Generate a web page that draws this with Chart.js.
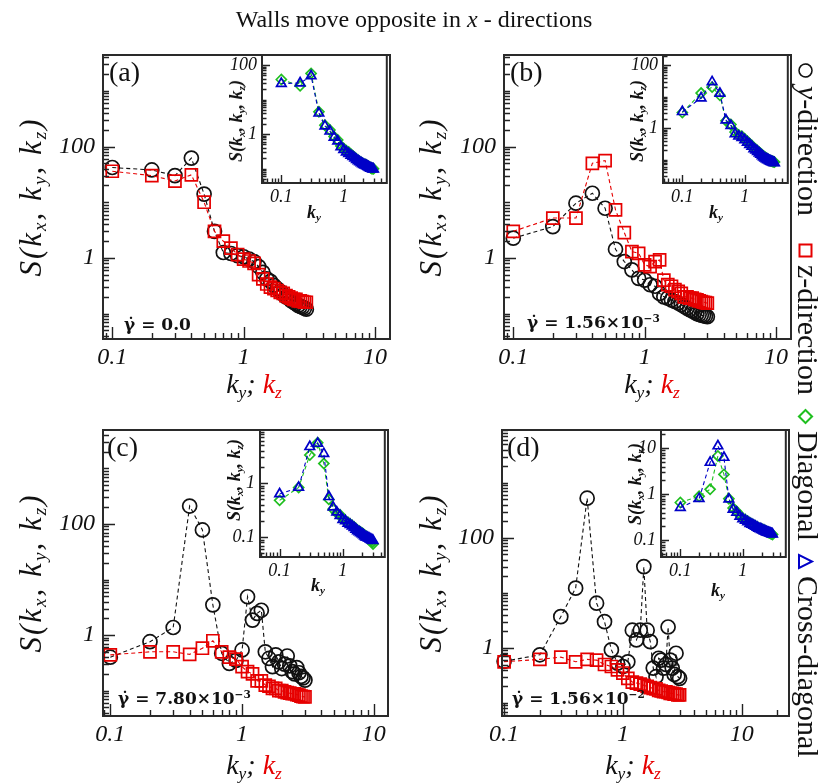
<!DOCTYPE html>
<html>
<head>
<meta charset="utf-8">
<script src="https://cdn.jsdelivr.net/npm/chart.js@4.4.1/dist/chart.umd.min.js"></script>
<style>
  body { margin: 0; background: #fff; }
  #fig { position: relative; width: 828px; height: 784px; overflow: hidden; font-family: "Liberation Serif", "Times New Roman", serif; color: #111; }
  #fig canvas { position: absolute; }
  .t { position: absolute; white-space: nowrap; line-height: 1; }
  .c { transform: translate(-50%, -50%); }
  .rot { transform: translate(-50%, -50%) rotate(-90deg); }
  .ytl { font-size: 31px; font-style: italic; letter-spacing: 2px; }
  .xtl { font-size: 28px; font-style: italic; }
  .iyt { font-size: 18px; font-style: italic; font-weight: bold; }
  .ixt { font-size: 18px; font-style: italic; font-weight: bold; }
  .pl { font-size: 28px; }
  .gd { font-family: "DejaVu Serif", serif; font-weight: bold; font-size: 17px; }
  sub { font-size: 0.62em; vertical-align: -0.3em; line-height: 0; }
  sup { font-size: 0.62em; vertical-align: 0.6em; line-height: 0; }
  .red { color: #e60000; }
  #leg { position: absolute; left: 824px; top: 60px; width: 720px; height: 32px; transform-origin: 0 0; transform: rotate(90deg); font-size: 30px; line-height: 32px; }
  #leg span { position: absolute; top: 0; white-space: nowrap; }
  #leg svg { vertical-align: -1px; }
</style>
</head>
<body>
<div id="fig">
  <canvas id="mainA"></canvas><canvas id="insetA"></canvas>
  <canvas id="mainB"></canvas><canvas id="insetB"></canvas>
  <canvas id="mainC"></canvas><canvas id="insetC"></canvas>
  <canvas id="mainD"></canvas><canvas id="insetD"></canvas>

  <div class="t c" style="left:414px;top:19px;font-size:24px">Walls move opposite in <i>x</i> - directions</div>

  <!-- panel a -->
  <div class="t pl" style="left:109px;top:58px">(a)</div>
  <div class="t gd" style="left:124px;top:316px">γ̇ = 0.0</div>
  <div class="t rot ytl" style="left:30px;top:197px">S(k<sub>x</sub>, k<sub>y</sub>, k<sub>z</sub>)</div>
  <div class="t c xtl" style="left:254px;top:384px">k<sub>y</sub>; <span class="red">k<sub>z</sub></span></div>
  <div class="t rot iyt" style="left:236px;top:121px">S(k<sub>x</sub>, k<sub>y</sub>, k<sub>z</sub>)</div>
  <div class="t c ixt" style="left:314px;top:212px">k<sub>y</sub></div>

  <!-- panel b -->
  <div class="t pl" style="left:510px;top:58px">(b)</div>
  <div class="t gd" style="left:527px;top:314px">γ̇ = 1.56×10<sup>−3</sup></div>
  <div class="t rot ytl" style="left:430px;top:197px">S(k<sub>x</sub>, k<sub>y</sub>, k<sub>z</sub>)</div>
  <div class="t c xtl" style="left:652px;top:384px">k<sub>y</sub>; <span class="red">k<sub>z</sub></span></div>
  <div class="t rot iyt" style="left:637px;top:121px">S(k<sub>x</sub>, k<sub>y</sub>, k<sub>z</sub>)</div>
  <div class="t c ixt" style="left:716px;top:212px">k<sub>y</sub></div>

  <!-- panel c -->
  <div class="t pl" style="left:107px;top:433px">(c)</div>
  <div class="t gd" style="left:118px;top:690px">γ̇ = 7.80×10<sup>−3</sup></div>
  <div class="t rot ytl" style="left:30px;top:573px">S(k<sub>x</sub>, k<sub>y</sub>, k<sub>z</sub>)</div>
  <div class="t c xtl" style="left:254px;top:765px">k<sub>y</sub>; <span class="red">k<sub>z</sub></span></div>
  <div class="t rot iyt" style="left:234px;top:480px">S(k<sub>x</sub>, k<sub>y</sub>, k<sub>z</sub>)</div>
  <div class="t c ixt" style="left:318px;top:585px">k<sub>y</sub></div>

  <!-- panel d -->
  <div class="t pl" style="left:507px;top:433px">(d)</div>
  <div class="t gd" style="left:512px;top:690px">γ̇ = 1.56×10<sup>−2</sup></div>
  <div class="t rot ytl" style="left:430px;top:573px">S(k<sub>x</sub>, k<sub>y</sub>, k<sub>z</sub>)</div>
  <div class="t c xtl" style="left:633px;top:765px">k<sub>y</sub>; <span class="red">k<sub>z</sub></span></div>
  <div class="t rot iyt" style="left:635px;top:484px">S(k<sub>x</sub>, k<sub>y</sub>, k<sub>z</sub>)</div>
  <div class="t c ixt" style="left:718px;top:590px">k<sub>y</sub></div>

  <!-- legend, rotated -->
  <div id="leg">
    <span style="left:2px"><svg width="17" height="17" viewBox="0 0 17 17"><circle cx="8.5" cy="8.5" r="6.5" fill="none" stroke="#111" stroke-width="1.6"/></svg></span>
    <span style="left:26px"><i>y</i>-direction</span>
    <span style="left:182px"><svg width="17" height="17" viewBox="0 0 17 17"><rect x="2.5" y="2.5" width="12" height="12" fill="none" stroke="#e60000" stroke-width="2"/></svg></span>
    <span style="left:205px">z-direction</span>
    <span style="left:348px"><svg width="17" height="17" viewBox="0 0 17 17"><polygon points="8.5,2 15,8.5 8.5,15 2,8.5" fill="none" stroke="#1fbf1f" stroke-width="2"/></svg></span>
    <span style="left:371px">Diagonal</span>
    <span style="left:493px"><svg width="17" height="17" viewBox="0 0 17 17"><polygon points="8.5,2 15,15 2,15" fill="none" stroke="#0000c8" stroke-width="2"/></svg></span>
    <span style="left:516px">Cross-diagonal</span>
  </div>
</div>

<script>
// wave numbers (same grid in every panel)
const kValues = [0.1, 0.2, 0.3, 0.4, 0.5, 0.6, 0.7, 0.8, 0.9, 1.0, 1.1, 1.2, 1.3, 1.4, 1.5,
                 1.6, 1.7, 1.8, 1.9, 2.0, 2.1, 2.2, 2.3, 2.4, 2.5, 2.6, 2.7, 2.8, 2.9, 3.0];

// (a) gamma = 0
const aYdir  = [42, 38, 30, 62, 14, 3.0, 1.25, 1.2, 1.1, 1.05, 0.95, 0.86, 0.7, 0.55, 0.42, 0.38, 0.32, 0.28, 0.25, 0.22, 0.2, 0.19, 0.17, 0.16, 0.15, 0.14, 0.135, 0.13, 0.125, 0.12];
const aZdir  = [36, 30, 24, 31, 10, 3.0, 2.0, 1.5, 1.15, 0.95, 0.88, 0.8, 0.5, 0.42, 0.34, 0.3, 0.28, 0.26, 0.24, 0.23, 0.21, 0.2, 0.19, 0.18, 0.18, 0.17, 0.17, 0.165, 0.16, 0.16];
const aDiag  = [38, 25, 57, 4.4, 1.8, 1.3, 0.84, 0.67, 0.45, 0.38, 0.33, 0.3, 0.26, 0.23, 0.21, 0.19, 0.17, 0.16, 0.15, 0.14, 0.135, 0.13, 0.125, 0.12, 0.115, 0.11, 0.105, 0.1, 0.1, 0.098];
const aCross = [29, 30, 48, 4.0, 1.7, 1.2, 0.8, 0.62, 0.42, 0.35, 0.3, 0.27, 0.24, 0.22, 0.2, 0.18, 0.165, 0.155, 0.145, 0.135, 0.13, 0.125, 0.12, 0.115, 0.11, 0.105, 0.1, 0.1, 0.095, 0.095];

// (b) gamma = 1.56e-3
const bYdir  = [2.26, 3.65, 9.6, 14.5, 7.8, 1.43, 0.86, 0.61, 0.43, 0.40, 0.33, 0.31, 0.23, 0.20, 0.19, 0.175, 0.165, 0.155, 0.145, 0.134, 0.125, 0.118, 0.112, 0.106, 0.10, 0.097, 0.094, 0.092, 0.09, 0.088];
const bZdir  = [3.0, 5.2, 5.2, 50, 56, 7.3, 2.85, 1.3, 1.21, 0.75, 0.70, 0.86, 0.92, 0.40, 0.33, 0.31, 0.27, 0.25, 0.23, 0.20, 0.2, 0.19, 0.19, 0.18, 0.177, 0.17, 0.165, 0.16, 0.158, 0.154];
const bDiag  = [3.1, 13, 20, 11, 1.7, 1.3, 0.75, 0.6, 0.55, 0.45, 0.38, 0.32, 0.28, 0.24, 0.21, 0.19, 0.17, 0.155, 0.14, 0.13, 0.12, 0.11, 0.105, 0.1, 0.095, 0.092, 0.09, 0.087, 0.085, 0.083];
const bCross = [3.3, 9, 29.5, 12.6, 1.8, 1.2, 0.65, 0.55, 0.5, 0.42, 0.35, 0.3, 0.26, 0.22, 0.2, 0.18, 0.16, 0.145, 0.13, 0.12, 0.11, 0.105, 0.1, 0.095, 0.09, 0.088, 0.085, 0.082, 0.08, 0.078];

// (c) gamma = 7.80e-3
const cYdir  = [0.40, 0.76, 1.37, 210, 78, 3.5, 0.47, 0.31, 0.35, 0.54, 4.9, 1.86, 2.46, 2.8, 0.5, 0.38, 0.27, 0.44, 0.33, 0.25, 0.3, 0.42, 0.28, 0.22, 0.2, 0.26, 0.21, 0.18, 0.17, 0.155];
const cZdir  = [0.44, 0.5, 0.5, 0.45, 0.58, 0.79, 0.5, 0.4, 0.37, 0.27, 0.22, 0.2, 0.15, 0.15, 0.126, 0.12, 0.11, 0.11, 0.1, 0.1, 0.095, 0.092, 0.09, 0.088, 0.088, 0.085, 0.083, 0.08, 0.078, 0.077];
const cDiag  = [0.48, 0.83, 3.3, 5.6, 2.3, 0.5, 0.33, 0.28, 0.26, 0.22, 0.2, 0.19, 0.175, 0.165, 0.155, 0.145, 0.135, 0.13, 0.125, 0.12, 0.115, 0.11, 0.105, 0.1, 0.095, 0.09, 0.088, 0.085, 0.08, 0.075];
const cCross = [0.63, 0.83, 4.7, 5.4, 3.5, 0.56, 0.36, 0.29, 0.25, 0.21, 0.2, 0.18, 0.17, 0.16, 0.15, 0.14, 0.13, 0.125, 0.12, 0.115, 0.11, 0.105, 0.1, 0.1, 0.097, 0.095, 0.092, 0.09, 0.088, 0.086];

// (d) gamma = 1.56e-2
const dYdir  = [0.57, 0.75, 3.7, 12.2, 525, 6.5, 3.0, 0.92, 0.53, 0.46, 0.56, 2.1, 1.4, 2.1, 30, 2.1, 1.3, 0.43, 0.3, 0.65, 0.6, 0.43, 0.5, 2.4, 0.6, 0.43, 0.33, 0.8, 0.3, 0.28];
const dZdir  = [0.56, 0.62, 0.68, 0.56, 0.62, 0.6, 0.5, 0.46, 0.4, 0.35, 0.28, 0.24, 0.23, 0.22, 0.21, 0.2, 0.19, 0.185, 0.18, 0.17, 0.165, 0.16, 0.16, 0.155, 0.15, 0.15, 0.145, 0.145, 0.14, 0.14];
const dDiag  = [0.66, 0.9, 1.28, 6.8, 2.7, 0.8, 0.5, 0.42, 0.35, 0.3, 0.28, 0.26, 0.24, 0.225, 0.215, 0.205, 0.195, 0.185, 0.18, 0.175, 0.17, 0.165, 0.16, 0.155, 0.15, 0.147, 0.144, 0.14, 0.137, 0.133];
const dCross = [0.51, 0.8, 4.9, 11.2, 6.3, 0.78, 0.47, 0.4, 0.33, 0.29, 0.27, 0.25, 0.23, 0.22, 0.21, 0.2, 0.19, 0.18, 0.175, 0.17, 0.165, 0.16, 0.155, 0.15, 0.148, 0.145, 0.142, 0.14, 0.137, 0.135];

// labelled ticks
const mainXTicks = [0.1, 1, 10];
const mainYTicks = [1, 100];
const insetXTicks = [0.1, 1];
const insetYTicksA = [1, 100];
const insetYTicksB = [1, 100];
const insetYTicksC = [0.1, 1];
const insetYTicksD = [0.1, 1, 10];

// ---- styling ----
const RED = '#e60000', GREEN = '#1fbf1f', BLUE = '#0000c8', BLACK = '#111';

function series(ys, color, shape, r) {
  return {
    data: kValues.map((k, i) => ({ x: k, y: ys[i] })),
    borderColor: color, borderWidth: 1.1, borderDash: [4, 3],
    pointStyle: shape, pointRadius: r, pointBorderColor: color, pointBorderWidth: 1.7,
    pointBackgroundColor: 'rgba(0,0,0,0)', backgroundColor: 'rgba(0,0,0,0)',
    fill: false, tension: 0, clip: false
  };
}

// all 1..9 x 10^e values inside [min, max]
function logTicks(min, max) {
  const out = [];
  for (let e = Math.floor(Math.log10(min)); e <= Math.ceil(Math.log10(max)); e++) {
    for (let m = 1; m <= 9; m++) {
      const v = Number((m * Math.pow(10, e)).toPrecision(6));
      if (v >= min && v <= max) out.push(v);
    }
  }
  return out;
}
const isIn = (v, list) => list.some(t => Math.abs(Math.log10(v) - Math.log10(t)) < 1e-6);

// frame box + inward ticks on bottom and left
const frameTicks = {
  id: 'frameTicks',
  beforeDraw(chart, args, o) {
    if (!o.fill) return;
    const a = chart.chartArea, ctx = chart.ctx;
    ctx.save();
    ctx.fillStyle = '#fff';
    ctx.fillRect(a.left, a.top, a.right - a.left, a.bottom - a.top);
    ctx.restore();
  },
  afterDraw(chart, args, o) {
    const { ctx, chartArea: a, scales: { x, y } } = chart;
    ctx.save();
    ctx.strokeStyle = '#222';
    ctx.lineWidth = 1.4;
    ctx.beginPath();
    logTicks(x.min, x.max).forEach(v => {
      const px = Math.round(x.getPixelForValue(v)) + 0.5;
      const len = isIn(v, o.xMajor) ? o.major : o.minor;
      ctx.moveTo(px, a.bottom); ctx.lineTo(px, a.bottom - len);
    });
    logTicks(y.min, y.max).forEach(v => {
      const py = Math.round(y.getPixelForValue(v)) + 0.5;
      const len = isIn(v, o.yMajor) ? o.major : o.minor;
      ctx.moveTo(a.left, py); ctx.lineTo(a.left + len, py);
    });
    ctx.stroke();
    ctx.lineWidth = 2;
    ctx.strokeStyle = '#2a2a2a';
    ctx.strokeRect(a.left, a.top, a.right - a.left, a.bottom - a.top);
    ctx.restore();
  }
};

function makeChart(id, frame, g, datasets, xRange, yRange, xLab, yLab, tickOpts, fontSize, inset) {
  const cv = document.getElementById(id);
  cv.width = (frame.r - frame.l) + g.yW + g.pr;
  cv.height = (frame.b - frame.t) + g.pt + g.xH;
  cv.style.left = (frame.l - g.yW) + 'px';
  cv.style.top = (frame.t - g.pt) + 'px';
  const font = { family: 'Liberation Serif', style: 'italic', size: fontSize };
  return new Chart(cv, {
    type: 'line',
    data: { datasets },
    options: {
      responsive: false, animation: false, devicePixelRatio: 1, events: [],
      layout: { padding: { top: g.pt, right: g.pr, left: 0, bottom: 0 } },
      plugins: {
        legend: { display: false }, tooltip: { enabled: false },
        frameTicks: Object.assign({ fill: inset, xMajor: xLab, yMajor: yLab }, tickOpts)
      },
      scales: {
        x: {
          type: 'logarithmic', min: xRange[0], max: xRange[1],
          grid: { display: false, drawTicks: false }, border: { display: false },
          afterBuildTicks: s => { s.ticks = xLab.map(v => ({ value: v })); },
          afterFit: s => { s.height = g.xH; },
          ticks: { padding: g.xPad, font, color: '#111', maxRotation: 0, autoSkip: false, callback: v => String(v) }
        },
        y: {
          type: 'logarithmic', min: yRange[0], max: yRange[1],
          grid: { display: false, drawTicks: false }, border: { display: false },
          afterBuildTicks: s => { s.ticks = yLab.map(v => ({ value: v })); },
          afterFit: s => { s.width = g.yW; },
          ticks: { padding: g.yPad, font, color: '#111', autoSkip: false, callback: v => String(v) }
        }
      }
    },
    plugins: [frameTicks]
  });
}

// pt is kept larger than the label padding Chart.js reserves at the top
const mainGeom = { yW: 75, pt: 30, pr: 20, xH: 40, xPad: 4, yPad: 8 };
const insetGeom = { yW: 45, pt: 22, pr: 4, xH: 24, xPad: 3, yPad: 5 };
const mainTickLen = { major: 12, minor: 6 };
const insetTickLen = { major: 8, minor: 4.5 };

const mainSets = (yd, zd) => [series(zd, RED, 'rect', 8.5), series(yd, BLACK, 'circle', 7)];
const insetSets = (dg, cr) => [series(cr, BLUE, 'triangle', 5.5), series(dg, GREEN, 'rectRot', 5)];

makeChart('mainA', { l: 103, t: 55, r: 390, b: 339 }, mainGeom, mainSets(aYdir, aZdir), [0.085, 13], [0.035, 4400], mainXTicks, mainYTicks, mainTickLen, 24, false);
makeChart('insetA', { l: 262, t: 55, r: 390, b: 183 }, insetGeom, insetSets(aDiag, aCross), [0.049, 4.9], [0.038, 195], insetXTicks, insetYTicksA, insetTickLen, 18, true);

makeChart('mainB', { l: 504, t: 55, r: 791, b: 339 }, mainGeom, mainSets(bYdir, bZdir), [0.085, 13], [0.035, 4400], mainXTicks, mainYTicks, mainTickLen, 24, false);
makeChart('insetB', { l: 663, t: 55, r: 791, b: 183 }, insetGeom, insetSets(bDiag, bCross), [0.049, 4.9], [0.018, 210], insetXTicks, insetYTicksB, insetTickLen, 18, true);

makeChart('mainC', { l: 103, t: 430, r: 388, b: 716 }, mainGeom, mainSets(cYdir, cZdir), [0.088, 12.8], [0.035, 4900], mainXTicks, mainYTicks, mainTickLen, 24, false);
makeChart('insetC', { l: 260, t: 430, r: 388, b: 557 }, insetGeom, insetSets(cDiag, cCross), [0.049, 4.6], [0.043, 9.6], insetXTicks, insetYTicksC, insetTickLen, 18, true);

makeChart('mainD', { l: 502, t: 430, r: 789, b: 716 }, mainGeom, mainSets(dYdir, dZdir), [0.096, 25], [0.058, 9100], mainXTicks, mainYTicks, mainTickLen, 24, false);
makeChart('insetD', { l: 661, t: 430, r: 789, b: 557 }, insetGeom, insetSets(dDiag, dCross), [0.049, 4.9], [0.043, 25], insetXTicks, insetYTicksD, insetTickLen, 18, true);
</script>
</body>
</html>
